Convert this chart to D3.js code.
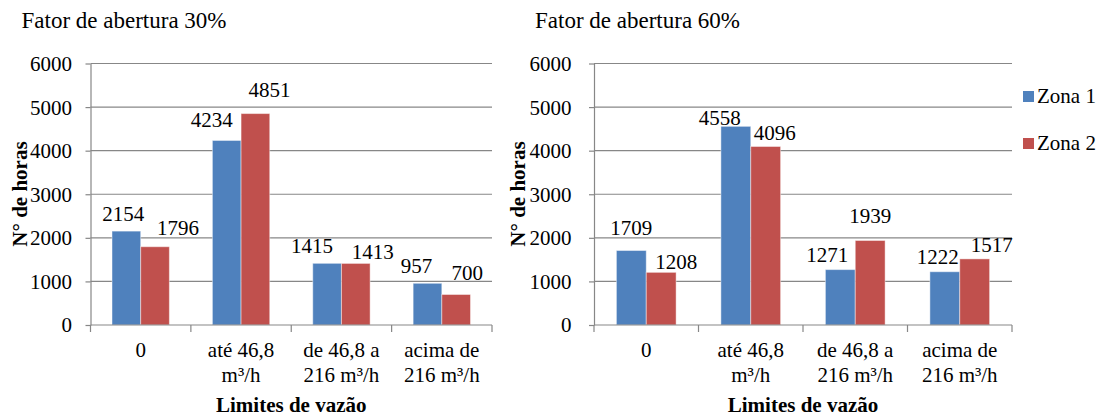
<!DOCTYPE html>
<html>
<head>
<meta charset="utf-8">
<script src="https://cdn.jsdelivr.net/npm/d3@7"></script>
<style>
body { margin: 0; background: #fff; }
</style>
</head>
<body>
<div id="container"></div>
<script>
// data
const categories = ["0", "até 46,8 m³/h", "de 46,8 a 216 m³/h", "acima de 216 m³/h"];
const categoryLines = [["0"], ["até 46,8", "m³/h"], ["de 46,8 a", "216 m³/h"], ["acima de", "216 m³/h"]];
const seriesNames = ["Zona 1", "Zona 2"];
const zona1_30 = [2154, 4234, 1415, 957];
const zona2_30 = [1796, 4851, 1413, 700];
const zona1_60 = [1709, 4558, 1271, 1222];
const zona2_60 = [1208, 4096, 1939, 1517];
const yTicks = [0, 1000, 2000, 3000, 4000, 5000, 6000];

// label nudges (Excel moved some labels to avoid overlap)
const nudge30 = [[[-3, -10], [-15, -13], [-15, -10], [-11, -10]], [[23, -12], [14, -17], [17, -4], [11, -14]]];
const nudge60 = [[[0, -16], [-16, -1], [-13, -8], [-7, -8]], [[15, -3], [9, -6], [0, -17], [17, -7]]];

const colors = ["#4F81BD", "#C0504D"];
const w = 1100, h = 416;
const fs = 21;
const font = "Liberation Serif";

const svg = d3.select("#container").append("svg").attr("width", w).attr("height", h);

function txt(g, x, y, s, anchor, size, bold) {
	return g.append("text")
		.attr("transform", `translate(${x},${y})`)
		.attr("text-anchor", anchor || "start")
		.style("font-family", font)
		.style("font-weight", bold ? "bold" : "normal")
		.style("font-size", (size || fs) + "px")
		.text(s);
}

function panel(opt) {
	const g = svg.append("g");
	const y = d3.scaleLinear().domain([0, 6000]).range([325, 63.5]);
	const x = d3.scaleBand().domain(categories).range([opt.x0, opt.x1]);
	const xs = d3.scaleBand().domain(seriesNames).range([0, x.bandwidth()]).paddingOuter(0.75);

	// gridlines
	g.selectAll(".grid").data(yTicks.slice(1)).enter().append("line")
		.attr("x1", opt.x0).attr("x2", opt.x1)
		.attr("y1", d => y(d)).attr("y2", d => y(d))
		.attr("stroke", "#878787").attr("stroke-width", 1.2);

	// y axis
	const ya = g.append("g").attr("transform", `translate(${opt.x0},0)`)
		.call(d3.axisLeft(y).tickValues(yTicks).tickFormat(d3.format("d")).tickSize(5).tickSizeOuter(0).tickPadding(opt.pad));
	ya.attr("font-family", null).attr("font-size", null);
	ya.select(".domain").attr("stroke", "#878787").attr("stroke-width", 1.2);
	ya.selectAll(".tick line").attr("stroke", "#878787").attr("stroke-width", 1.2);
	ya.selectAll(".tick text").attr("dy", "0.33em")
		.style("font-family", font).style("font-weight", "normal").style("font-size", fs + "px").attr("fill", "#000");

	// bars
	const series = [opt.s1, opt.s2];
	series.forEach((vals, si) => {
		g.selectAll(".bar" + si).data(vals).enter().append("rect")
			.attr("x", (d, i) => x(categories[i]) + xs(seriesNames[si]))
			.attr("y", d => y(d))
			.attr("width", xs.bandwidth())
			.attr("height", d => y(0) - y(d))
			.attr("fill", colors[si])
			.attr("stroke", "rgba(255,255,255,0.45)").attr("stroke-width", 1);
	});

	// x axis line and boundary ticks
	g.append("line").attr("x1", opt.x0).attr("x2", opt.x1).attr("y1", y(0)).attr("y2", y(0))
		.attr("stroke", "#878787").attr("stroke-width", 1.2);
	const bounds = categories.map(c => x(c)).concat([opt.x1]);
	g.selectAll(".xt").data(bounds).enter().append("line")
		.attr("x1", d => d).attr("x2", d => d).attr("y1", y(0)).attr("y2", y(0) + 7)
		.attr("stroke", "#878787").attr("stroke-width", 1.2);

	// category labels
	categoryLines.forEach((lines, i) => {
		lines.forEach((l, j) => txt(g, x(categories[i]) + x.bandwidth() / 2, 357 + j * 25, l, "middle"));
	});

	// data labels
	series.forEach((vals, si) => {
		vals.forEach((v, i) => {
			const cx = x(categories[i]) + xs(seriesNames[si]) + xs.bandwidth() / 2;
			const n = opt.nudge[si][i];
			txt(g, cx + n[0], y(v) + n[1], v, "middle");
		});
	});

	// titles
	txt(g, opt.tx, 28, opt.title, "start", 23);
	txt(g, (opt.x0 + opt.x1) / 2, 412, "Limites de vazão", "middle", fs, true);
	g.append("text")
		.attr("transform", `translate(${opt.yt},194) rotate(-90)`)
		.attr("text-anchor", "middle")
		.style("font-family", font)
		.style("font-weight", "bold")
		.style("font-size", "21px")
		.text("N° de horas");
}

panel({ x0: 90.5, x1: 492, pad: 13.5, s1: zona1_30, s2: zona2_30, nudge: nudge30, title: "Fator de abertura 30%", tx: 21.5, yt: 26.5 });
panel({ x0: 594, x1: 1012, pad: 17.5, s1: zona1_60, s2: zona2_60, nudge: nudge60, title: "Fator de abertura 60%", tx: 535, yt: 525 });

// legend
const leg = svg.append("g");
seriesNames.forEach((s, i) => {
	leg.append("rect").attr("x", 1023).attr("y", 91 + i * 47).attr("width", 11).attr("height", 11).attr("fill", colors[i]);
	txt(leg, 1037, 103 + i * 47, s, "start");
});
</script>
</body>
</html>
